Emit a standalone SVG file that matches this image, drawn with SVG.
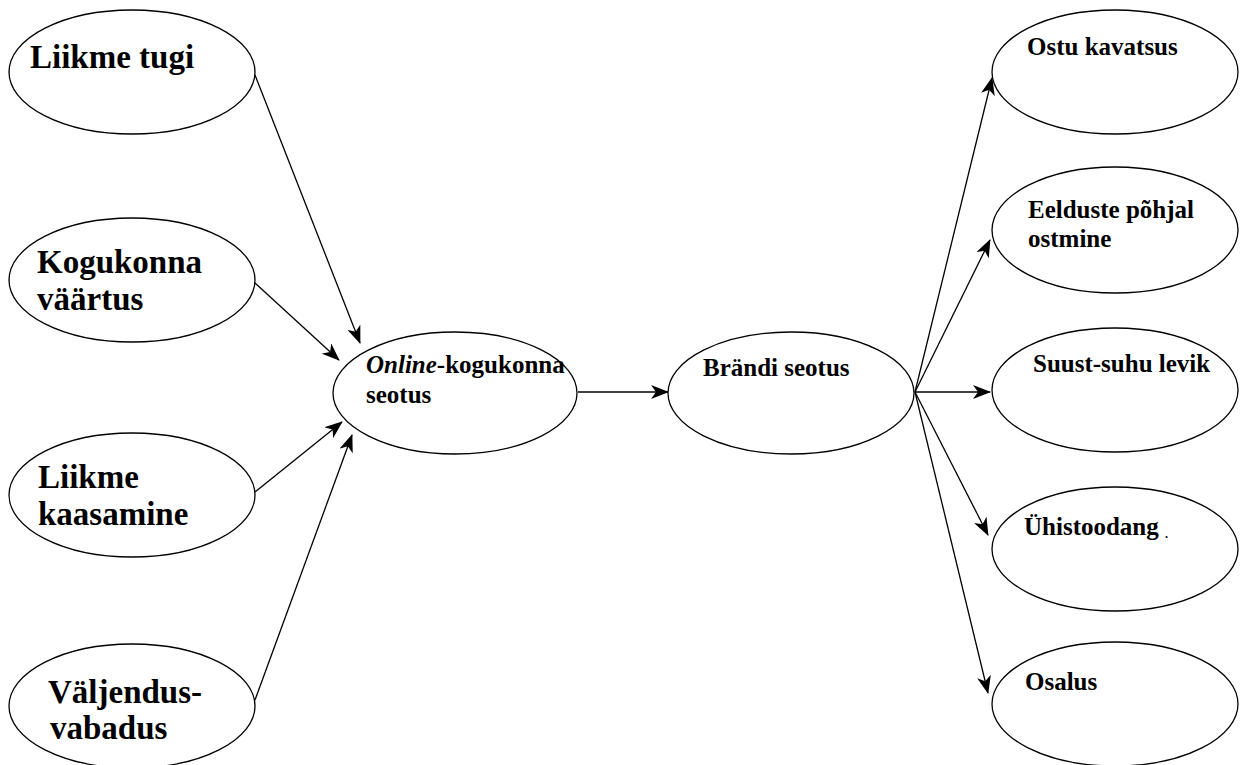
<svg xmlns="http://www.w3.org/2000/svg" width="1240" height="765" viewBox="0 0 1240 765">
<defs>
<style>
.n{fill:#fff;stroke:#000;stroke-width:1.3}
text{font-family:'Liberation Serif','Times New Roman','DejaVu Serif',serif;font-weight:700;fill:#000}
.big{font-size:33px}
.sm{font-size:25px}
.c{stroke:#000;stroke-width:1.3;fill:none;marker-end:url(#ah)}
</style>
<marker id="ah" viewBox="0 0 18 14" refX="17" refY="7" markerWidth="18" markerHeight="14" markerUnits="userSpaceOnUse" orient="auto">
<path d="M0,0 L18,7 L0,14 L5,7 Z" fill="#000"/>
</marker>
</defs>
<rect width="1240" height="765" fill="#fff"/>
<g id="connectors">
<line class="c" x1="255" y1="75" x2="360" y2="343"/>
<line class="c" x1="255" y1="283" x2="339" y2="360"/>
<line class="c" x1="255" y1="492" x2="342" y2="422"/>
<line class="c" x1="255" y1="700" x2="352" y2="435"/>
<line class="c" x1="578" y1="392" x2="668" y2="392"/>
<line class="c" x1="915" y1="392" x2="992" y2="78"/>
<line class="c" x1="915" y1="392" x2="990" y2="240"/>
<line class="c" x1="915" y1="392" x2="990" y2="392"/>
<line class="c" x1="915" y1="392" x2="988" y2="535"/>
<line class="c" x1="915" y1="392" x2="988" y2="693"/>
</g>
<g id="liikme-tugi">
<ellipse class="n" cx="132" cy="72" rx="123" ry="62"/>
<text class="big" x="30" y="68" font-family="Liberation Serif, serif">Liikme tugi</text>
</g>
<g id="kogukonna-vaartus">
<ellipse class="n" cx="132" cy="280" rx="123" ry="62"/>
<text class="big" x="37" y="273" font-family="Liberation Serif, serif">Kogukonna</text>
<text class="big" x="37" y="310" font-family="Liberation Serif, serif">väärtus</text>
</g>
<g id="liikme-kaasamine">
<ellipse class="n" cx="132" cy="495" rx="123" ry="62"/>
<text class="big" x="38" y="488" font-family="Liberation Serif, serif">Liikme</text>
<text class="big" x="38" y="525" font-family="Liberation Serif, serif">kaasamine</text>
</g>
<g id="valjendusvabadus">
<ellipse class="n" cx="132" cy="706" rx="123" ry="62"/>
<text class="big" x="48" y="703" font-family="Liberation Serif, serif">Väljendus-</text>
<text class="big" x="50" y="739" font-family="Liberation Serif, serif">vabadus</text>
</g>
<g id="online-kogukonna-seotus">
<ellipse class="n" cx="455" cy="393" rx="122" ry="61"/>
<text class="sm" x="366" y="373" font-family="Liberation Serif, serif"><tspan font-style="italic">Online</tspan>-kogukonna</text>
<text class="sm" x="366" y="403" font-family="Liberation Serif, serif">seotus</text>
</g>
<g id="brandi-seotus">
<ellipse class="n" cx="791" cy="393" rx="123" ry="61"/>
<text class="sm" x="703" y="376" font-family="Liberation Serif, serif">Brändi seotus</text>
</g>
<g id="ostu-kavatsus">
<ellipse class="n" cx="1115" cy="72" rx="123" ry="62"/>
<text class="sm" x="1027" y="55" font-family="Liberation Serif, serif">Ostu kavatsus</text>
</g>
<g id="eelduste-pohjal-ostmine">
<ellipse class="n" cx="1115" cy="230" rx="123" ry="63"/>
<text class="sm" x="1028" y="218" font-family="Liberation Serif, serif">Eelduste põhjal</text>
<text class="sm" x="1028" y="247" font-family="Liberation Serif, serif">ostmine</text>
</g>
<g id="suust-suhu-levik">
<ellipse class="n" cx="1115" cy="390" rx="123" ry="62"/>
<text class="sm" x="1033" y="372" font-family="Liberation Serif, serif">Suust-suhu levik</text>
</g>
<g id="uhistoodang">
<ellipse class="n" cx="1115" cy="549" rx="123" ry="62"/>
<text class="sm" x="1024" y="535" font-family="Liberation Serif, serif">Ühistoodang</text>
<text x="1165" y="538" font-size="12" font-family="Liberation Serif, serif">.</text>
</g>
<g id="osalus">
<ellipse class="n" cx="1115" cy="704" rx="123" ry="62"/>
<text class="sm" x="1025" y="690" font-family="Liberation Serif, serif">Osalus</text>
</g>
</svg>
